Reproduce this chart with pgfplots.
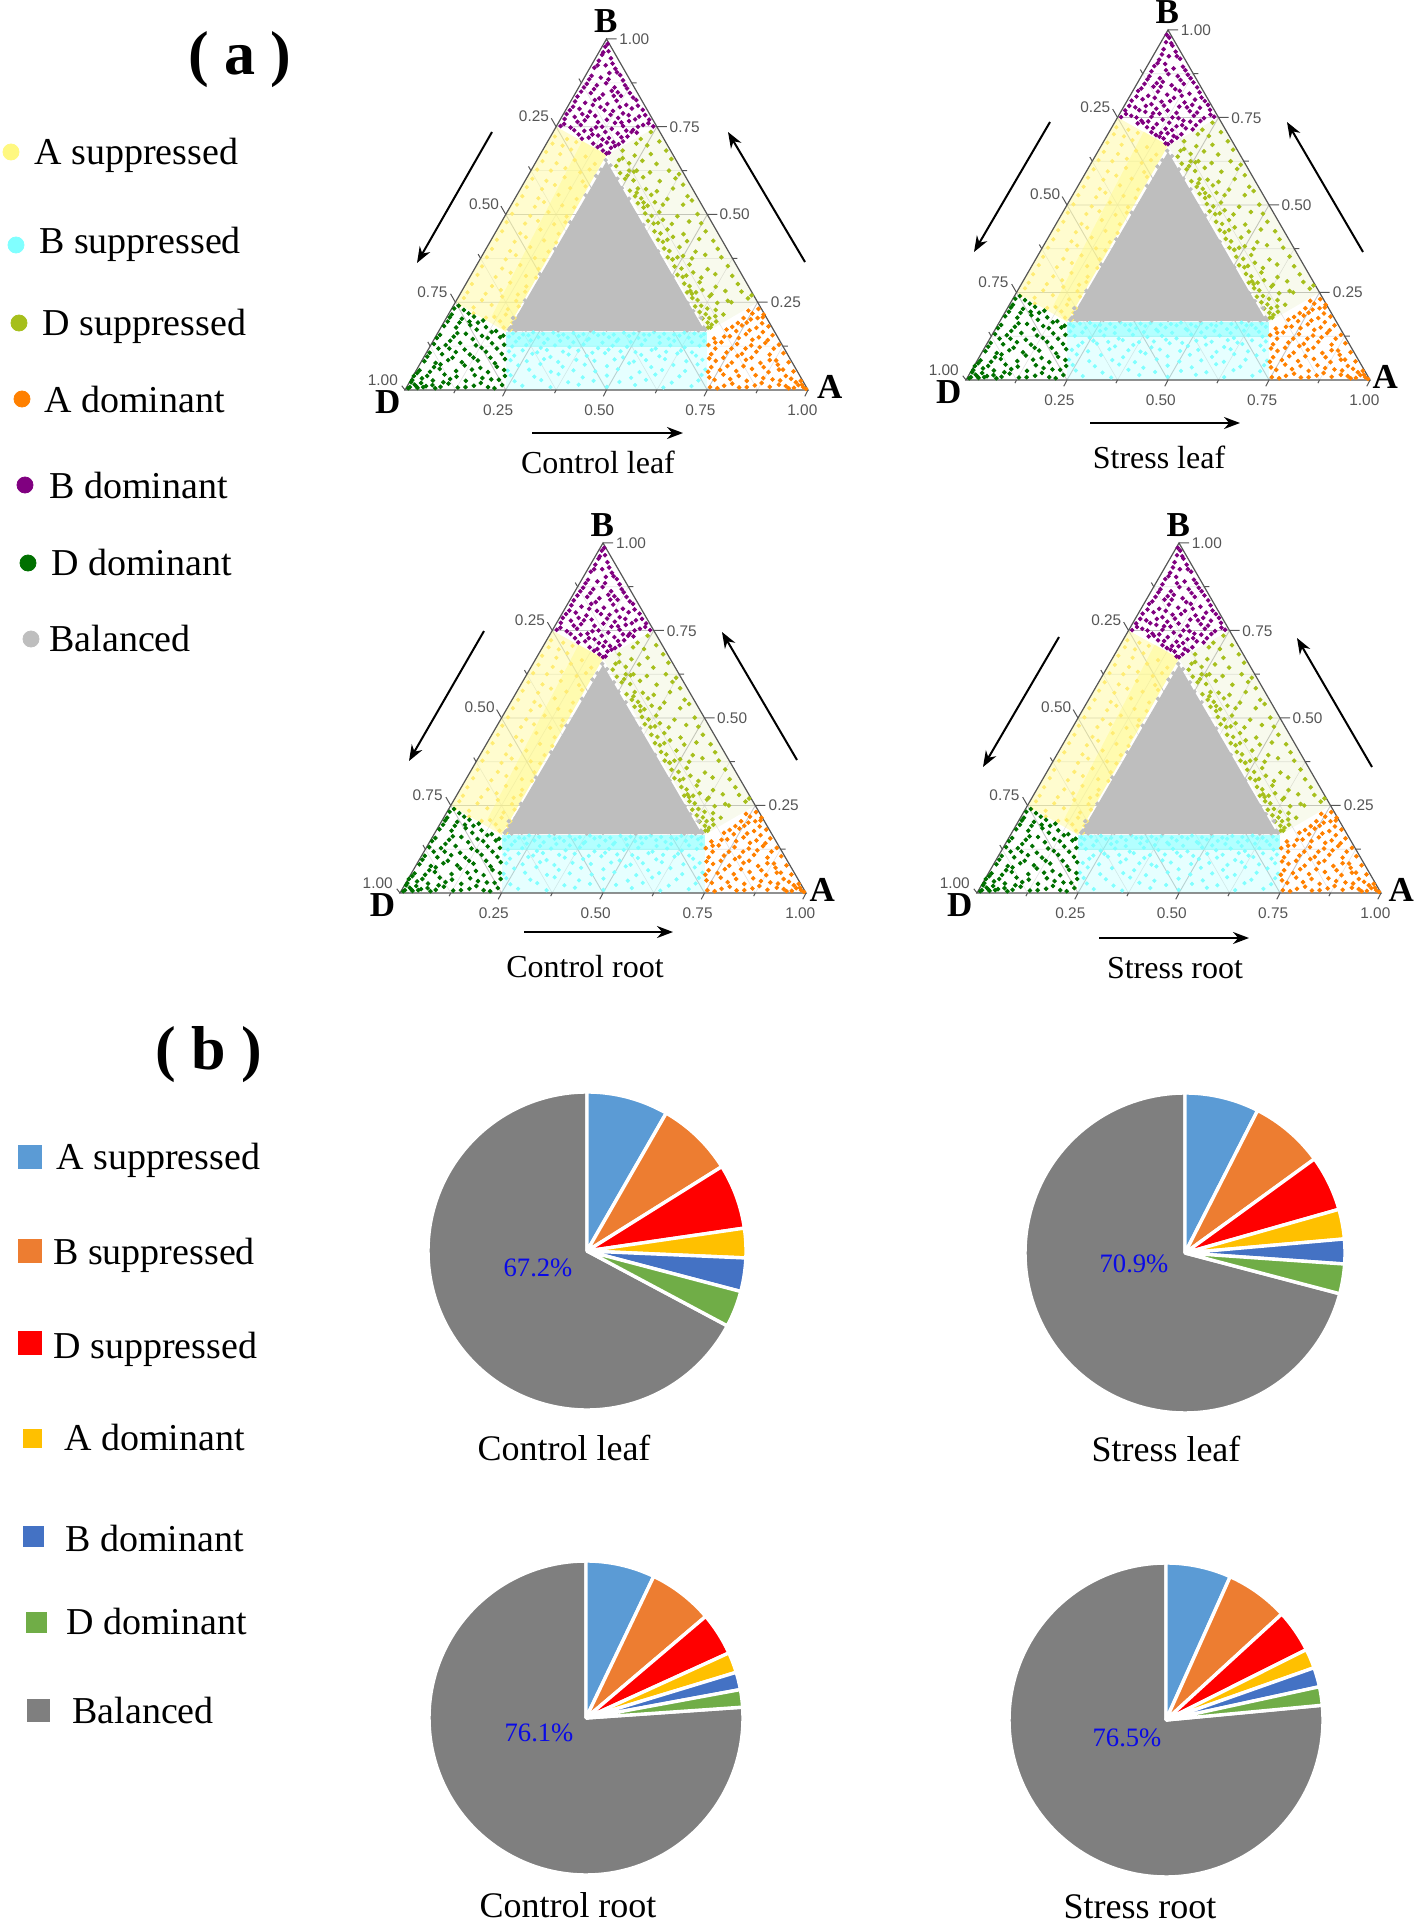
\documentclass[border=0pt]{standalone}
\usepackage{fontspec}
\setmainfont{Liberation Serif}
\newfontfamily\tickfont{Liberation Sans}
\usepackage{pgfplots}
\usepackage{pgfplotstable}
\pgfplotsset{compat=1.18}
\usetikzlibrary{arrows.meta}
\definecolor{cyel}{HTML}{FFF880}
\definecolor{ccya}{HTML}{80FFFF}
\definecolor{coli}{HTML}{A6BF1C}
\definecolor{cora}{HTML}{FF8000}
\definecolor{cpur}{HTML}{800080}
\definecolor{cgre}{HTML}{007000}
\definecolor{cgry}{HTML}{BEBEBE}
\definecolor{pA}{HTML}{5B9BD5}
\definecolor{pB}{HTML}{ED7D31}
\definecolor{pC}{HTML}{FF0000}
\definecolor{pD}{HTML}{FFC000}
\definecolor{pE}{HTML}{4472C4}
\definecolor{pF}{HTML}{70AD47}
\definecolor{pG}{HTML}{7F7F7F}
\definecolor{tc}{HTML}{555555}
\pgfplotstableread[row sep=\\]{
u v\\
497 978\\505 965\\489 955\\511 945\\481 938\\498 925\\470 918\\522 915\\507 903\\463 895\\486 890\\534 897\\451 872\\476 868\\499 874\\520 862\\546 868\\437 850\\461 846\\491 842\\513 852\\536 838\\558 846\\422 822\\447 818\\471 826\\502 815\\525 824\\549 812\\574 826\\409 797\\433 801\\459 793\\485 806\\516 795\\541 788\\563 802\\590 798\\396 772\\421 778\\446 768\\472 781\\501 770\\529 775\\556 766\\581 779\\606 770\\386 752\\411 748\\436 755\\462 741\\489 750\\513 744\\541 752\\566 741\\591 755\\616 751\\431 728\\456 719\\479 725\\506 718\\528 731\\552 722\\575 733\\467 702\\486 697\\501 705\\521 695\\541 708\\491 682\\506 676\\
492 962\\503 986\\478 925\\515 930\\526 905\\457 885\\541 882\\444 862\\469 857\\505 885\\528 848\\551 859\\428 836\\482 831\\518 838\\566 833\\417 807\\440 786\\466 812\\495 797\\533 806\\555 783\\578 810\\401 786\\428 764\\453 779\\479 763\\510 784\\537 762\\571 771\\596 783\\395 758\\420 740\\445 738\\474 748\\497 735\\521 761\\549 739\\578 750\\604 760\\439 716\\465 728\\490 714\\517 706\\537 720\\562 735\\478 692\\511 690\\530 700\\500 674\\
}\tabPur
\pgfplotstableread[row sep=\\]{
u v\\
12 8\\24 15\\18 28\\31 6\\52 11\\88 9\\131 7\\171 12\\206 8\\241 14\\42 33\\69 27\\112 31\\151 26\\192 34\\233 29\\36 56\\62 52\\86 60\\127 54\\166 58\\206 51\\246 57\\48 82\\76 77\\107 85\\141 79\\181 84\\223 76\\61 106\\92 102\\126 108\\161 101\\201 109\\240 103\\72 131\\101 128\\137 134\\176 127\\216 133\\246 129\\87 157\\121 152\\151 160\\191 154\\236 150\\97 182\\127 178\\162 185\\201 179\\226 168\\111 207\\141 203\\171 209\\194 198\\122 232\\146 228\\
8 5\\15 22\\28 10\\40 20\\22 40\\45 8\\68 14\\75 5\\108 18\\150 8\\188 20\\222 5\\55 40\\95 22\\128 38\\173 42\\214 30\\248 40\\30 48\\72 65\\98 44\\148 70\\187 63\\228 66\\55 95\\88 73\\118 92\\170 92\\212 92\\248 88\\83 118\\110 118\\148 115\\190 120\\228 118\\79 148\\112 140\\130 162\\168 145\\205 148\\244 155\\106 195\\135 192\\178 172\\215 165\\116 215\\160 195\\181 192\\133 240\\158 218\\
}\tabGre
\pgfplotstableread[row sep=\\]{
u v\\
988 8\\976 14\\982 26\\965 6\\945 11\\905 9\\868 13\\829 7\\792 12\\757 8\\958 32\\931 27\\889 34\\848 26\\807 31\\768 29\\964 53\\938 58\\902 51\\861 60\\822 54\\782 57\\752 52\\952 79\\921 84\\882 77\\846 86\\811 78\\771 83\\939 105\\905 101\\872 109\\836 103\\798 107\\760 102\\928 129\\894 134\\859 127\\824 131\\785 136\\753 128\\912 156\\878 150\\846 159\\806 153\\767 147\\902 181\\872 177\\836 184\\798 172\\888 207\\858 201\\826 191\\877 231\\852 226\\
995 3\\985 15\\970 22\\952 5\\928 15\\885 20\\848 8\\812 18\\775 5\\945 40\\912 30\\870 42\\828 40\\790 44\\755 36\\925 72\\890 65\\840 68\\800 68\\760 65\\928 58\\905 85\\860 92\\825 97\\790 92\\755 90\\915 118\\880 122\\845 118\\810 118\\770 118\\900 142\\862 143\\828 148\\792 152\\770 135\\888 165\\855 170\\822 168\\886 190\\848 192\\812 180\\862 218\\875 205\\840 205\\890 215\\
}\tabOra
\pgfplotstableread[row sep=\\]{
u v\\
574 702\\601 697\\631 708\\531 655\\556 646\\589 653\\624 644\\661 658\\546 602\\567 597\\591 606\\632 595\\671 603\\571 552\\586 546\\611 556\\651 544\\701 552\\596 503\\612 496\\631 507\\676 495\\726 501\\619 452\\634 446\\651 457\\691 444\\746 452\\643 403\\656 396\\681 407\\721 394\\776 402\\669 352\\686 346\\706 357\\751 344\\801 353\\693 303\\706 296\\731 307\\771 294\\826 302\\713 262\\726 256\\756 267\\801 254\\851 261\\731 222\\746 216\\771 228\\751 192\\761 186\\556 625\\578 574\\602 525\\628 476\\651 428\\676 378\\698 326\\722 278\\568 622\\592 520\\664 372\\708 282\\
540 682\\585 715\\610 735\\524 638\\540 660\\570 668\\610 672\\648 682\\534 618\\552 611\\575 625\\608 620\\655 625\\680 615\\558 568\\575 562\\598 572\\625 566\\665 574\\690 585\\578 532\\592 534\\620 535\\640 528\\690 528\\712 540\\603 482\\617 474\\640 485\\662 473\\705 480\\735 475\\628 428\\640 422\\665 436\\700 424\\730 430\\765 425\\652 378\\664 372\\690 382\\712 375\\745 385\\785 378\\676 328\\689 322\\715 335\\735 320\\770 330\\812 325\\700 278\\712 274\\738 285\\760 272\\795 282\\835 280\\720 238\\735 240\\750 232\\775 248\\810 250\\860 270\\738 204\\755 205\\770 210\\790 215\\758 178\\772 195\\752 178\\
}\tabOli
\pgfplotstableread[row sep=\\]{
u v\\
366 702\\391 696\\425 706\\341 652\\376 646\\421 655\\471 644\\316 602\\351 596\\396 606\\441 594\\291 552\\331 546\\381 556\\426 544\\266 502\\311 496\\356 507\\401 494\\241 452\\286 446\\336 457\\381 445\\216 402\\261 396\\311 407\\356 394\\191 352\\241 346\\286 356\\331 345\\166 302\\216 296\\261 306\\301 295\\146 262\\191 256\\241 266\\276 254\\201 206\\236 196\\266 192\\
372 722\\402 715\\350 678\\385 672\\412 685\\448 665\\328 628\\362 625\\398 632\\435 620\\458 628\\302 578\\340 572\\372 584\\410 575\\448 580\\278 528\\322 522\\345 535\\390 526\\420 520\\252 478\\298 474\\330 482\\370 472\\398 478\\228 428\\272 422\\300 435\\345 426\\375 420\\203 378\\250 372\\275 384\\322 376\\345 370\\180 328\\225 322\\262 334\\300 325\\325 320\\155 278\\200 274\\238 285\\280 272\\298 280\\135 240\\170 235\\215 242\\255 230\\282 238\\170 218\\222 208\\250 215\\272 205\\245 178\\262 172\\
}\tabYel
\pgfplotstableread[row sep=\\]{
u v\\
258 152\\283 148\\306 156\\331 150\\354 145\\381 155\\404 149\\431 153\\456 146\\479 156\\506 150\\529 144\\556 154\\579 148\\606 157\\631 151\\654 146\\681 155\\704 149\\734 153\\266 124\\301 128\\337 120\\372 127\\408 122\\443 130\\479 119\\515 126\\551 123\\587 129\\622 118\\658 127\\694 121\\731 126\\271 98\\316 103\\361 94\\406 101\\451 97\\496 105\\541 93\\586 100\\631 96\\676 104\\722 98\\281 70\\336 74\\391 66\\446 72\\501 68\\556 76\\611 65\\666 71\\726 73\\262 42\\321 38\\381 45\\441 36\\501 41\\561 35\\621 44\\681 39\\736 43\\291 12\\361 8\\431 15\\501 9\\571 14\\641 7\\711 11\\
268 161\\293 158\\318 164\\343 160\\368 163\\393 158\\418 162\\443 159\\468 164\\493 160\\518 158\\543 163\\568 161\\593 158\\618 164\\643 160\\668 158\\693 163\\718 161\\742 159\\275 138\\312 141\\345 134\\385 140\\418 136\\452 142\\490 135\\525 139\\560 137\\596 142\\632 134\\668 140\\712 136\\742 139\\258 110\\292 113\\328 107\\352 114\\392 109\\430 112\\465 106\\505 115\\535 110\\572 108\\612 114\\648 109\\685 112\\712 107\\262 85\\302 82\\345 88\\380 80\\425 86\\470 83\\520 87\\568 81\\598 85\\645 88\\698 82\\738 86\\255 55\\308 58\\362 52\\418 56\\472 53\\528 59\\582 51\\638 57\\695 54\\745 58\\272 25\\338 28\\405 22\\468 26\\532 23\\598 29\\662 21\\728 27\\
}\tabCya
\pgfplotstableread[row sep=\\]{
u v\\
498 655\\510 640\\486 628\\474 610\\527 602\\448 555\\556 545\\410 478\\592 470\\372 402\\628 395\\335 330\\664 322\\298 255\\701 248\\268 205\\285 188\\262 178\\275 170\\735 205\\722 182\\741 178\\728 170\\310 225\\690 215\\
495 630\\505 618\\480 600\\520 590\\462 565\\538 575\\455 540\\548 530\\432 505\\572 500\\418 470\\585 455\\398 430\\602 425\\380 390\\620 385\\358 345\\642 350\\345 310\\655 300\\322 270\\680 275\\312 240\\692 235\\285 215\\715 225\\270 192\\258 172\\300 172\\340 172\\380 170\\420 174\\460 170\\500 172\\540 175\\580 170\\620 172\\660 174\\700 170\\745 172\\
}\tabGry

% #1,#2 position (pt), #3,#4 size (pt), #5 x expression, #6 u of the letter A
\newcommand{\tripanel}[6]{%
\begin{axis}[at={(#1pt,#2pt)},anchor=south west,width=#3pt,height=#4pt,scale only axis,
 xmin=0,xmax=1000,ymin=0,ymax=1000,axis lines=none,clip=false,unbounded coords=jump]
 % faint grid
 \addplot[gray!22,line width=.3pt] coordinates {(62.5,125)(937.5,125) (nan,nan) (187.5,375)(812.5,375) (nan,nan) (312.5,625)(687.5,625) (nan,nan) (437.5,875)(562.5,875) (nan,nan)
 (125,0)(562.5,875) (nan,nan) (375,0)(687.5,625) (nan,nan) (625,0)(812.5,375) (nan,nan) (875,0)(937.5,125) (nan,nan)
 (437.5,875)(875,0) (nan,nan) (312.5,625)(625,0) (nan,nan) (187.5,375)(375,0) (nan,nan) (62.5,125)(125,0)};
 \addplot[gray!45,line width=.45pt] coordinates {(125,250)(875,250) (nan,nan) (250,500)(750,500) (nan,nan) (375,750)(625,750) (nan,nan)
 (250,0)(625,750) (nan,nan) (500,0)(750,500) (nan,nan) (750,0)(875,250) (nan,nan)
 (375,750)(750,0) (nan,nan) (250,500)(500,0) (nan,nan) (125,250)(250,0)};
 % dense clouds
 \addplot[fill=cyel,fill opacity=.38,draw=none] coordinates {(125,250)(250,166)(500,670)(375,750)} -- cycle;
 \addplot[fill=cyel,fill opacity=.4,draw=none] coordinates {(215,210)(250,166)(500,670)(440,710)} -- cycle;
 \addplot[fill=coli,fill opacity=.08,draw=none] coordinates {(875,250)(750,166)(500,670)(625,750)} -- cycle;
 \addplot[fill=ccya,fill opacity=.2,draw=none] coordinates {(250,0)(750,0)(750,166)(250,166)} -- cycle;
 \addplot[fill=ccya,fill opacity=.5,draw=none] coordinates {(250,122)(750,122)(750,166)(250,166)} -- cycle;
 \addplot[fill=cgry,draw=none] coordinates {(500,652)(256,168)(744,168)} -- cycle;
 % points
 \addplot[only marks,mark=*,mark size=.85pt,color=cyel!90!orange] table[x=u,y=v] {\tabYel};
 \addplot[only marks,mark=*,mark size=.85pt,color=ccya] table[x expr=#5,y=v] {\tabCya};
 \addplot[only marks,mark=*,mark size=.95pt,color=coli] table[x=u,y=v] {\tabOli};
 \addplot[only marks,mark=*,mark size=.9pt,color=cgry] table[x=u,y=v] {\tabGry};
 \addplot[only marks,mark=*,mark size=.95pt,color=cora] table[x=u,y=v] {\tabOra};
 \addplot[only marks,mark=*,mark size=.95pt,color=cpur] table[x expr=#5,y=v] {\tabPur};
 \addplot[only marks,mark=*,mark size=.95pt,color=cgre] table[x=u,y=v] {\tabGre};
 % frame and ticks
 \addplot[tc,line width=.6pt] coordinates {(0,0)(1000,0)(500,1000)} -- cycle;
 \addplot[tc,line width=.5pt] coordinates {(250,0)(242,-18) (nan,nan) (500,0)(492,-18) (nan,nan) (750,0)(742,-18) (nan,nan) (1000,0)(992,-18) (nan,nan)
 (125,0)(121,-9) (nan,nan) (375,0)(371,-9) (nan,nan) (625,0)(621,-9) (nan,nan) (875,0)(871,-9) (nan,nan)
 (375,750)(363,774) (nan,nan) (250,500)(238,524) (nan,nan) (125,250)(113,274) (nan,nan) (0,0)(-8,12) (nan,nan)
 (437.5,875)(431.5,887) (nan,nan) (312.5,625)(306.5,637) (nan,nan) (187.5,375)(181.5,387) (nan,nan) (62.5,125)(56.5,137) (nan,nan)
 (500,1000)(525,1000) (nan,nan) (625,750)(650,750) (nan,nan) (750,500)(775,500) (nan,nan) (875,250)(900,250) (nan,nan)
 (562.5,875)(575,875) (nan,nan) (687.5,625)(700,625) (nan,nan) (812.5,375)(825,375) (nan,nan) (937.5,125)(950,125)};
 \tikzset{tk/.style={font=\tickfont\fontsize{7.7}{9}\selectfont,text=tc,inner sep=0pt}}
 \node[tk] at (axis cs:231,-57) {0.25};
 \node[tk] at (axis cs:482,-57) {0.50};
 \node[tk] at (axis cs:733,-57) {0.75};
 \node[tk] at (axis cs:986,-57) {1.00};
 \node[tk] at (axis cs:320,780) {0.25};
 \node[tk] at (axis cs:196,530) {0.50};
 \node[tk] at (axis cs:68,278) {0.75};
 \node[tk] at (axis cs:-55,29) {1.00};
 \node[tk] at (axis cs:569,1000) {1.00};
 \node[tk] at (axis cs:694,749) {0.75};
 \node[tk] at (axis cs:818,500) {0.50};
 \node[tk] at (axis cs:945,250) {0.25};
 \tikzset{cn/.style={font=\bfseries\fontsize{17.5}{19}\selectfont,inner sep=0pt}}
 \node[cn] at (axis cs:498,1050) {B};
 \node[cn] at (axis cs:-43,-35) {D};
 \node[cn] at (axis cs:#6,10) {A};
\end{axis}}

% #1,#2 position, #3 size (pt), #4..#9 cumulative percentages of the six small slices
\newcommand{\pie}[9]{%
\begin{axis}[at={(#1pt,#2pt)},anchor=south west,width=#3pt,height=#3pt,scale only axis,
 xmin=-1,xmax=1,ymin=-1,ymax=1,axis lines=none,clip=false,
 every axis plot/.append style={draw=white,line width=1.7pt,line join=bevel}]
 \addplot[fill=pG,domain=#9:100,samples=120] ({sin(3.6*x)},{cos(3.6*x)}) -- (axis cs:0,0) -- cycle;
 \addplot[fill=pA,domain=0:#4,samples=25] ({sin(3.6*x)},{cos(3.6*x)}) -- (axis cs:0,0) -- cycle;
 \addplot[fill=pB,domain=#4:#5,samples=25] ({sin(3.6*x)},{cos(3.6*x)}) -- (axis cs:0,0) -- cycle;
 \addplot[fill=pC,domain=#5:#6,samples=25] ({sin(3.6*x)},{cos(3.6*x)}) -- (axis cs:0,0) -- cycle;
 \addplot[fill=pD,domain=#6:#7,samples=15] ({sin(3.6*x)},{cos(3.6*x)}) -- (axis cs:0,0) -- cycle;
 \addplot[fill=pE,domain=#7:#8,samples=15] ({sin(3.6*x)},{cos(3.6*x)}) -- (axis cs:0,0) -- cycle;
 \addplot[fill=pF,domain=#8:#9,samples=15] ({sin(3.6*x)},{cos(3.6*x)}) -- (axis cs:0,0) -- cycle;
\end{axis}}

\begin{document}
\begin{tikzpicture}
\path[use as bounding box] (0,0) rectangle (709pt,963pt);
\begin{axis}[at={(0,0)},anchor=south west,width=709pt,height=963pt,scale only axis,
 xmin=0,xmax=1418,ymin=0,ymax=1926,y dir=reverse,axis lines=none,clip=false]
 % legend (a)
 \addplot[only marks,mark=*,mark size=4pt,color=cyel] coordinates {(11,152)};
 \addplot[only marks,mark=*,mark size=4pt,color=ccya] coordinates {(16,245)};
 \addplot[only marks,mark=*,mark size=4pt,color=coli] coordinates {(19,323)};
 \addplot[only marks,mark=*,mark size=4pt,color=cora] coordinates {(22,399)};
 \addplot[only marks,mark=*,mark size=4pt,color=cpur] coordinates {(25,485)};
 \addplot[only marks,mark=*,mark size=4pt,color=cgre] coordinates {(28,563)};
 \addplot[only marks,mark=*,mark size=4pt,color=cgry] coordinates {(31,639)};
 \tikzset{lg/.style={font=\fontsize{19}{22}\selectfont,anchor=west,inner sep=0pt},
  capa/.style={font=\fontsize{16}{19}\selectfont,inner sep=0pt},
  capb/.style={font=\fontsize{18}{21}\selectfont,inner sep=0pt},
  hd/.style={font=\bfseries\fontsize{31}{34}\selectfont,inner sep=0pt}}
 \node[hd] at (axis cs:240,60) {( a )};
 \node[lg] at (axis cs:34,155) {A suppressed};
 \node[lg] at (axis cs:39,244) {B suppressed};
 \node[lg] at (axis cs:42,326) {D suppressed};
 \node[lg] at (axis cs:44,399) {A dominant};
 \node[lg] at (axis cs:49,485) {B dominant};
 \node[lg] at (axis cs:51,562) {D dominant};
 \node[lg] at (axis cs:49,638) {Balanced};
 % arrows
 \addplot[-{Stealth[length=8pt,width=6pt]},line width=1pt] coordinates {(492,132)(417,263)};
 \addplot[-{Stealth[length=8pt,width=6pt]},line width=1pt] coordinates {(805,262)(728,132)};
 \addplot[-{Stealth[length=8pt,width=6pt]},line width=1pt] coordinates {(532,433)(683,433)};
 \addplot[-{Stealth[length=8pt,width=6pt]},line width=1pt] coordinates {(1050,122)(974,252)};
 \addplot[-{Stealth[length=8pt,width=6pt]},line width=1pt] coordinates {(1363,252)(1287,122)};
 \addplot[-{Stealth[length=8pt,width=6pt]},line width=1pt] coordinates {(1090,423)(1240,423)};
 \addplot[-{Stealth[length=8pt,width=6pt]},line width=1pt] coordinates {(484,631)(409,761)};
 \addplot[-{Stealth[length=8pt,width=6pt]},line width=1pt] coordinates {(797,760)(722,632)};
 \addplot[-{Stealth[length=8pt,width=6pt]},line width=1pt] coordinates {(524,932)(673,932)};
 \addplot[-{Stealth[length=8pt,width=6pt]},line width=1pt] coordinates {(1059,637)(983,767)};
 \addplot[-{Stealth[length=8pt,width=6pt]},line width=1pt] coordinates {(1372,767)(1297,638)};
 \addplot[-{Stealth[length=8pt,width=6pt]},line width=1pt] coordinates {(1099,938)(1249,938)};
 \node[capa] at (axis cs:598,462) {Control leaf};
 \node[capa] at (axis cs:1159,457) {Stress leaf};
 \node[capa] at (axis cs:585,967) {Control root};
 \node[capa] at (axis cs:1175,968) {Stress root};
 % legend (b)
 \node[hd] at (axis cs:209,1055) {( b )};
 \addplot[only marks,mark=square*,mark size=5.7pt,color=pA] coordinates {(30,1157)};
 \addplot[only marks,mark=square*,mark size=5.7pt,color=pB] coordinates {(30,1251)};
 \addplot[only marks,mark=square*,mark size=5.7pt,color=pC] coordinates {(30,1343)};
 \addplot[only marks,mark=square*,mark size=4.5pt,color=pD] coordinates {(32,1438)};
 \addplot[only marks,mark=square*,mark size=5pt,color=pE] coordinates {(33,1536)};
 \addplot[only marks,mark=square*,mark size=5pt,color=pF] coordinates {(36,1622)};
 \addplot[only marks,mark=square*,mark size=5.5pt,color=pG] coordinates {(38,1710)};
 \node[lg] at (axis cs:56,1160) {A suppressed};
 \node[lg] at (axis cs:53,1255) {B suppressed};
 \node[lg] at (axis cs:53,1349) {D suppressed};
 \node[lg] at (axis cs:64,1437) {A dominant};
 \node[lg] at (axis cs:65,1538) {B dominant};
 \node[lg] at (axis cs:66,1621) {D dominant};
 \node[lg] at (axis cs:72,1710) {Balanced};
 \node[capb] at (axis cs:564,1448) {Control leaf};
 \node[capb] at (axis cs:1166,1449) {Stress leaf};
 \node[capb] at (axis cs:568,1905) {Control root};
 \node[capb] at (axis cs:1140,1907) {Stress root};
\end{axis}
\tripanel{202.5}{768}{201.5}{175.5}{\thisrow{u}}{1054}
\tripanel{483}{773}{202}{175}{1000-\thisrow{u}}{1038}
\tripanel{200}{516.5}{203}{175}{\thisrow{u}}{1040}
\tripanel{488.5}{516.5}{202}{175}{1000-\thisrow{u}}{1050}
\pie{214}{258}{159}{8.3}{16.1}{22.7}{25.7}{29.1}{32.8}
\pie{512.5}{256.5}{160}{7.5}{15}{20.6}{23.6}{26.1}{29.1}
\pie{214.5}{25.5}{157}{7.1}{13.8}{18.2}{20.3}{22.1}{23.9}
\pie{504.5}{24.5}{157}{6.7}{13.2}{17.6}{19.6}{21.6}{23.5}
\begin{axis}[at={(0,0)},anchor=south west,width=709pt,height=963pt,scale only axis,
 xmin=0,xmax=1418,ymin=0,ymax=1926,y dir=reverse,axis lines=none,clip=false]
 \tikzset{pct/.style={font=\fontsize{13.3}{15}\selectfont,text={rgb,255:red,10;green,10;blue,230},inner sep=0pt}}
 \node[pct] at (axis cs:538,1268) {67.2\%};
 \node[pct] at (axis cs:1134,1264) {70.9\%};
 \node[pct] at (axis cs:539,1733) {76.1\%};
 \node[pct] at (axis cs:1127,1738) {76.5\%};
\end{axis}
\end{tikzpicture}
\end{document}
